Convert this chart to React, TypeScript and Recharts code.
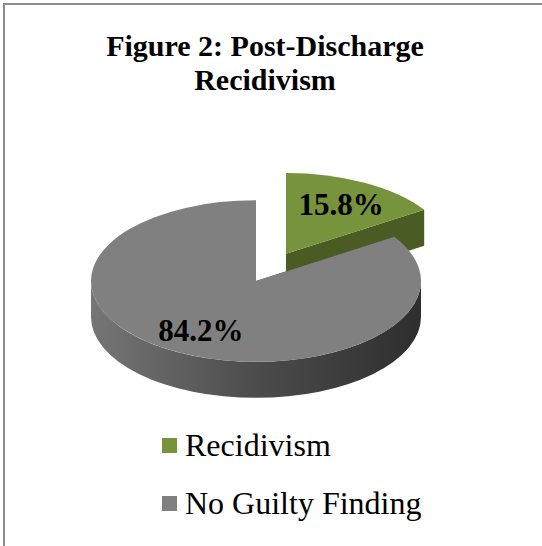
import { Cell, Legend, Pie, PieChart } from "recharts";

const categories = ["Recidivism", "No Guilty Finding"];
const shares = [15.8, 84.2];
const colors = ["#77933c", "#808080"];
const sideColors = ["#4a5c24", "#3a3a3a"];

const data = categories.map((name, i) => ({ name, value: shares[i] }));

const SQUASH = 0.49; // ellipse height / width
const DEPTH = 36;
const EXPLODE = 63;
const EXPLODED_INDEX = 0;
const RAD = Math.PI / 180;
const SERIF = '"Liberation Serif", "Times New Roman", serif';

const centerOf = (cx, cy, index, midAngle) => {
  const off = index === EXPLODED_INDEX ? EXPLODE : 0;
  return [cx + off * Math.cos(midAngle * RAD), cy - off * SQUASH * Math.sin(midAngle * RAD)];
};

const pt = (cx, cy, r, a, dy = 0) => [
  cx + r * Math.cos(a * RAD),
  cy - r * SQUASH * Math.sin(a * RAD) + dy,
];

const Slice3D = (props) => {
  const { cx, cy, outerRadius: r, startAngle, endAngle, midAngle, index, fill } = props;
  const [ox, oy] = centerOf(cx, cy, index, midAngle);
  const ry = r * SQUASH;
  const lo = Math.min(startAngle, endAngle);
  const hi = Math.max(startAngle, endAngle);
  const gid = `side-grad-${index}`;

  // front wall pieces: angle ranges facing the viewer
  const walls = [];
  for (let k = -2; k <= 1; k++) {
    const s = Math.max(lo, -180 + 360 * k);
    const e = Math.min(hi, 360 * k);
    if (e > s) {
      const [x1, y1] = pt(ox, oy, r, s);
      const [x2, y2] = pt(ox, oy, r, e);
      const large = e - s > 180 ? 1 : 0;
      walls.push(
        `M${x1},${y1} A${r},${ry} 0 ${large} 0 ${x2},${y2} L${x2},${y2 + DEPTH} A${r},${ry} 0 ${large} 1 ${x1},${y1 + DEPTH} Z`
      );
    }
  }

  const radial = [startAngle, endAngle].map((a) => {
    const [x, y] = pt(ox, oy, r, a);
    return `M${ox},${oy} L${x},${y} L${x},${y + DEPTH} L${ox},${oy + DEPTH} Z`;
  });

  const [sx, sy] = pt(ox, oy, r, startAngle);
  const [ex, ey] = pt(ox, oy, r, endAngle);
  const large = Math.abs(startAngle - endAngle) > 180 ? 1 : 0;
  const sweep = startAngle > endAngle ? 1 : 0;
  const top = `M${ox},${oy} L${sx},${sy} A${r},${ry} 0 ${large} ${sweep} ${ex},${ey} Z`;

  return (
    <g>
      <defs>
        <linearGradient id={gid} x1="0" y1="0" x2="1" y2="0">
          <stop offset="0%" stopColor={index === 0 ? "#5a7030" : "#767676"} />
          <stop offset="50%" stopColor={index === 0 ? "#4f6228" : "#4c4c4c"} />
          <stop offset="100%" stopColor={index === 0 ? "#3e4e1f" : "#2e2e2e"} />
        </linearGradient>
      </defs>
      {radial.map((d, i) => (
        <path key={`r${i}`} d={d} fill={sideColors[index]} />
      ))}
      {walls.map((d, i) => (
        <path key={`w${i}`} d={d} fill={`url(#${gid})`} />
      ))}
      <path d={top} fill={fill} />
    </g>
  );
};

const renderLabel = (p) => {
  const { cx, cy, outerRadius: r, midAngle, index, value } = p;
  const [ox, oy] = centerOf(cx, cy, index, midAngle);
  const [x, y] = pt(ox, oy, r * 0.7, midAngle);
  return (
    <text
      x={x}
      y={y}
      textAnchor="middle"
      dominantBaseline="central"
      fontFamily={SERIF}
      fontWeight="bold"
      fontSize={31}
      fill="#000"
    >
      {`${value.toFixed(1)}%`}
    </text>
  );
};

const renderLegend = ({ payload }) => {
  const items = [...payload].sort((a, b) => categories.indexOf(a.value) - categories.indexOf(b.value));
  return (
    <ul style={{ listStyle: "none", margin: 0, padding: 0, fontFamily: SERIF, fontSize: 32, color: "#000" }}>
      {items.map((e) => (
        <li key={e.value} style={{ display: "flex", alignItems: "center", height: 58 }}>
          <span style={{ width: 15, height: 15, background: e.color, marginRight: 8, display: "inline-block" }} />
          {e.value}
        </li>
      ))}
    </ul>
  );
};

export default function App() {
  return (
    <div style={{ position: "absolute", left: 0, top: 0, width: 542, height: 546, overflow: "hidden", background: "#fff" }}>
      <div style={{ position: "absolute", left: 3, top: 3, width: 620, height: 620, border: "2px solid #8c8c8c" }} />
      <div
        style={{
          position: "absolute",
          left: 0,
          top: 29,
          width: 530,
          textAlign: "center",
          fontFamily: SERIF,
          fontWeight: "bold",
          fontSize: 30,
          lineHeight: "34px",
          color: "#000",
        }}
      >
        Figure 2: Post-Discharge
        <br />
        Recidivism
      </div>
      <div style={{ position: "absolute", left: 0, top: 0 }}>
        <PieChart width={542} height={546} margin={{ top: 0, right: 0, bottom: 0, left: 0 }}>
          <Pie
            data={data}
            dataKey="value"
            nameKey="name"
            cx={256}
            cy={281}
            outerRadius={165}
            startAngle={90}
            endAngle={-270}
            stroke="none"
            shape={Slice3D}
            label={renderLabel}
            labelLine={false}
            isAnimationActive={false}
          >
            {data.map((d, i) => (
              <Cell key={d.name} fill={colors[i]} />
            ))}
          </Pie>
          <Legend content={renderLegend} wrapperStyle={{ left: 162, top: 416, width: 320 }} />
        </PieChart>
      </div>
    </div>
  );
}
